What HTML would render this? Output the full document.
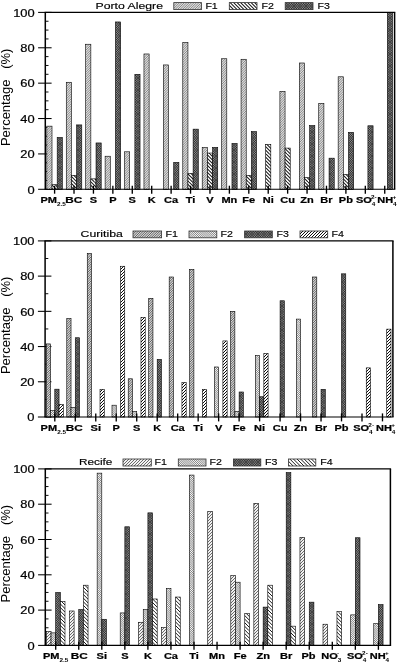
<!DOCTYPE html>
<html><head><meta charset="utf-8"><title>Source apportionment charts</title>
<style>html,body{margin:0;padding:0;background:#fff}svg{display:block}</style></head>
<body>
<svg width="397" height="663" viewBox="0 0 397 663" font-family="Liberation Sans, Arial, sans-serif">
<defs>
<pattern id="dF" width="17.00" height="17.00" patternUnits="userSpaceOnUse"><rect width="17.00" height="17.00" fill="#fff"/><path d="M-17.00,17.00 L0.00,0 M-15.30,17.00 L1.70,0 M-13.60,17.00 L3.40,0 M-11.90,17.00 L5.10,0 M-10.20,17.00 L6.80,0 M-8.50,17.00 L8.50,0 M-6.80,17.00 L10.20,0 M-5.10,17.00 L11.90,0 M-3.40,17.00 L13.60,0 M-1.70,17.00 L15.30,0 M0.00,17.00 L17.00,0 M1.70,17.00 L18.70,0 M3.40,17.00 L20.40,0 M5.10,17.00 L22.10,0 M6.80,17.00 L23.80,0 M8.50,17.00 L25.50,0 M10.20,17.00 L27.20,0 M11.90,17.00 L28.90,0 M13.60,17.00 L30.60,0 M15.30,17.00 L32.30,0 M17.00,17.00 L34.00,0" stroke="#3a3a3a" stroke-width="0.6" fill="none"/></pattern>
<pattern id="mF" width="12.00" height="12.00" patternUnits="userSpaceOnUse"><rect width="12.00" height="12.00" fill="#d6d6d6"/><path d="M-12.00,12.00 L0.00,0 M-9.60,12.00 L2.40,0 M-7.20,12.00 L4.80,0 M-4.80,12.00 L7.20,0 M-2.40,12.00 L9.60,0 M0.00,12.00 L12.00,0 M2.40,12.00 L14.40,0 M4.80,12.00 L16.80,0 M7.20,12.00 L19.20,0 M9.60,12.00 L21.60,0 M12.00,12.00 L24.00,0" stroke="#444" stroke-width="0.8" fill="none"/></pattern>
<pattern id="sF" width="12.00" height="12.00" patternUnits="userSpaceOnUse"><rect width="12.00" height="12.00" fill="#fff"/><path d="M-12.00,12.00 L0.00,0 M-9.00,12.00 L3.00,0 M-6.00,12.00 L6.00,0 M-3.00,12.00 L9.00,0 M0.00,12.00 L12.00,0 M3.00,12.00 L15.00,0 M6.00,12.00 L18.00,0 M9.00,12.00 L21.00,0 M12.00,12.00 L24.00,0" stroke="#000" stroke-width="0.95" fill="none"/></pattern>
<pattern id="dB" width="19.00" height="19.00" patternUnits="userSpaceOnUse"><rect width="19.00" height="19.00" fill="#fff"/><path d="M-19.00,0 L0.00,19.00 M-17.10,0 L1.90,19.00 M-15.20,0 L3.80,19.00 M-13.30,0 L5.70,19.00 M-11.40,0 L7.60,19.00 M-9.50,0 L9.50,19.00 M-7.60,0 L11.40,19.00 M-5.70,0 L13.30,19.00 M-3.80,0 L15.20,19.00 M-1.90,0 L17.10,19.00 M0.00,0 L19.00,19.00 M1.90,0 L20.90,19.00 M3.80,0 L22.80,19.00 M5.70,0 L24.70,19.00 M7.60,0 L26.60,19.00 M9.50,0 L28.50,19.00 M11.40,0 L30.40,19.00 M13.30,0 L32.30,19.00 M15.20,0 L34.20,19.00 M17.10,0 L36.10,19.00 M19.00,0 L38.00,19.00" stroke="#333" stroke-width="0.6" fill="none"/></pattern>
<pattern id="sB" width="18.00" height="18.00" patternUnits="userSpaceOnUse"><rect width="18.00" height="18.00" fill="#fff"/><path d="M-18.00,0 L0.00,18.00 M-14.40,0 L3.60,18.00 M-10.80,0 L7.20,18.00 M-7.20,0 L10.80,18.00 M-3.60,0 L14.40,18.00 M0.00,0 L18.00,18.00 M3.60,0 L21.60,18.00 M7.20,0 L25.20,18.00 M10.80,0 L28.80,18.00 M14.40,0 L32.40,18.00 M18.00,0 L36.00,18.00" stroke="#1a1a1a" stroke-width="1.0" fill="none"/></pattern>
<pattern id="mF3" width="12.00" height="12.00" patternUnits="userSpaceOnUse"><rect width="12.00" height="12.00" fill="#f2f2f2"/><path d="M-12.00,12.00 L0.00,0 M-9.00,12.00 L3.00,0 M-6.00,12.00 L6.00,0 M-3.00,12.00 L9.00,0 M0.00,12.00 L12.00,0 M3.00,12.00 L15.00,0 M6.00,12.00 L18.00,0 M9.00,12.00 L21.00,0 M12.00,12.00 L24.00,0" stroke="#5a5a5a" stroke-width="0.9" fill="none"/></pattern>
<pattern id="sB1" width="14.00" height="14.00" patternUnits="userSpaceOnUse"><rect width="14.00" height="14.00" fill="#fff"/><path d="M-14.00,0 L0.00,14.00 M-10.50,0 L3.50,14.00 M-7.00,0 L7.00,14.00 M-3.50,0 L10.50,14.00 M0.00,0 L14.00,14.00 M3.50,0 L17.50,14.00 M7.00,0 L21.00,14.00 M10.50,0 L24.50,14.00 M14.00,0 L28.00,14.00" stroke="#1a1a1a" stroke-width="1.05" fill="none"/></pattern>
<pattern id="X" width="12.00" height="12.00" patternUnits="userSpaceOnUse"><rect width="12.00" height="12.00" fill="#8c8c8c"/><path d="M-12.00,12.00 L0.00,0 M-12.00,0 L0.00,12.00 M-9.60,12.00 L2.40,0 M-9.60,0 L2.40,12.00 M-7.20,12.00 L4.80,0 M-7.20,0 L4.80,12.00 M-4.80,12.00 L7.20,0 M-4.80,0 L7.20,12.00 M-2.40,12.00 L9.60,0 M-2.40,0 L9.60,12.00 M0.00,12.00 L12.00,0 M0.00,0 L12.00,12.00 M2.40,12.00 L14.40,0 M2.40,0 L14.40,12.00 M4.80,12.00 L16.80,0 M4.80,0 L16.80,12.00 M7.20,12.00 L19.20,0 M7.20,0 L19.20,12.00 M9.60,12.00 L21.60,0 M9.60,0 L21.60,12.00 M12.00,12.00 L24.00,0 M12.00,0 L24.00,12.00" stroke="#1a1a1a" stroke-width="0.65" fill="none"/></pattern>
</defs>
<rect width="397" height="663" fill="#fff"/>
<g>
<path d="M38.099999999999994,189.30 H51.599999999999994" stroke="#000" stroke-width="1.05"/>
<text transform="translate(34.7,193.50) scale(1.24,1)" font-size="10.4" stroke="#000" stroke-width="0.2" text-anchor="end">0</text>
<path d="M45.3,180.46 H48.5" stroke="#000" stroke-width="0.95"/>
<path d="M45.3,171.61 H48.5" stroke="#000" stroke-width="0.95"/>
<path d="M45.3,162.77 H48.5" stroke="#000" stroke-width="0.95"/>
<path d="M38.099999999999994,153.92 H51.599999999999994" stroke="#000" stroke-width="1.05"/>
<text transform="translate(34.7,158.12) scale(1.24,1)" font-size="10.4" stroke="#000" stroke-width="0.2" text-anchor="end">20</text>
<path d="M45.3,145.08 H48.5" stroke="#000" stroke-width="0.95"/>
<path d="M45.3,136.23 H48.5" stroke="#000" stroke-width="0.95"/>
<path d="M45.3,127.39 H48.5" stroke="#000" stroke-width="0.95"/>
<path d="M38.099999999999994,118.54 H51.599999999999994" stroke="#000" stroke-width="1.05"/>
<text transform="translate(34.7,122.74) scale(1.24,1)" font-size="10.4" stroke="#000" stroke-width="0.2" text-anchor="end">40</text>
<path d="M45.3,109.70 H48.5" stroke="#000" stroke-width="0.95"/>
<path d="M45.3,100.85 H48.5" stroke="#000" stroke-width="0.95"/>
<path d="M45.3,92.01 H48.5" stroke="#000" stroke-width="0.95"/>
<path d="M38.099999999999994,83.16 H51.599999999999994" stroke="#000" stroke-width="1.05"/>
<text transform="translate(34.7,87.36) scale(1.24,1)" font-size="10.4" stroke="#000" stroke-width="0.2" text-anchor="end">60</text>
<path d="M45.3,74.31 H48.5" stroke="#000" stroke-width="0.95"/>
<path d="M45.3,65.47 H48.5" stroke="#000" stroke-width="0.95"/>
<path d="M45.3,56.62 H48.5" stroke="#000" stroke-width="0.95"/>
<path d="M38.099999999999994,47.78 H51.599999999999994" stroke="#000" stroke-width="1.05"/>
<text transform="translate(34.7,51.98) scale(1.24,1)" font-size="10.4" stroke="#000" stroke-width="0.2" text-anchor="end">80</text>
<path d="M45.3,38.94 H48.5" stroke="#000" stroke-width="0.95"/>
<path d="M45.3,30.09 H48.5" stroke="#000" stroke-width="0.95"/>
<path d="M45.3,21.25 H48.5" stroke="#000" stroke-width="0.95"/>
<path d="M38.099999999999994,12.40 H51.599999999999994" stroke="#000" stroke-width="1.05"/>
<text transform="translate(34.7,16.60) scale(1.24,1)" font-size="10.4" stroke="#000" stroke-width="0.2" text-anchor="end">100</text>
<rect x="46.84" y="126.15" width="5.17" height="63.15" fill="url(#dF)" stroke="#000" stroke-width="0.6"/>
<rect x="52.02" y="184.70" width="5.17" height="4.60" fill="url(#sB1)" stroke="#000" stroke-width="0.6"/>
<rect x="57.19" y="137.47" width="5.17" height="51.83" fill="url(#X)" stroke="#000" stroke-width="0.6"/>
<rect x="66.27" y="82.28" width="5.17" height="107.02" fill="url(#dF)" stroke="#000" stroke-width="0.6"/>
<rect x="71.44" y="175.32" width="5.17" height="13.98" fill="url(#sB1)" stroke="#000" stroke-width="0.6"/>
<rect x="76.61" y="124.91" width="5.17" height="64.39" fill="url(#X)" stroke="#000" stroke-width="0.6"/>
<rect x="85.69" y="44.24" width="5.17" height="145.06" fill="url(#dF)" stroke="#000" stroke-width="0.6"/>
<rect x="90.86" y="178.86" width="5.17" height="10.44" fill="url(#sB1)" stroke="#000" stroke-width="0.6"/>
<rect x="96.03" y="142.95" width="5.17" height="46.35" fill="url(#X)" stroke="#000" stroke-width="0.6"/>
<rect x="105.11" y="156.22" width="5.17" height="33.08" fill="url(#dF)" stroke="#000" stroke-width="0.6"/>
<rect x="115.45" y="21.95" width="5.17" height="167.35" fill="url(#X)" stroke="#000" stroke-width="0.6"/>
<rect x="124.53" y="151.80" width="5.17" height="37.50" fill="url(#dF)" stroke="#000" stroke-width="0.6"/>
<rect x="134.87" y="74.31" width="5.17" height="114.99" fill="url(#X)" stroke="#000" stroke-width="0.6"/>
<rect x="143.95" y="53.97" width="5.17" height="135.33" fill="url(#dF)" stroke="#000" stroke-width="0.6"/>
<rect x="163.37" y="64.94" width="5.17" height="124.36" fill="url(#dF)" stroke="#000" stroke-width="0.6"/>
<rect x="173.71" y="162.41" width="5.17" height="26.89" fill="url(#X)" stroke="#000" stroke-width="0.6"/>
<rect x="182.78" y="42.47" width="5.17" height="146.83" fill="url(#dF)" stroke="#000" stroke-width="0.6"/>
<rect x="187.95" y="173.38" width="5.17" height="15.92" fill="url(#sB1)" stroke="#000" stroke-width="0.6"/>
<rect x="193.12" y="129.15" width="5.17" height="60.15" fill="url(#X)" stroke="#000" stroke-width="0.6"/>
<rect x="202.21" y="147.55" width="5.17" height="41.75" fill="url(#dF)" stroke="#000" stroke-width="0.6"/>
<rect x="207.38" y="153.04" width="5.17" height="36.26" fill="url(#sB1)" stroke="#000" stroke-width="0.6"/>
<rect x="212.55" y="147.37" width="5.17" height="41.93" fill="url(#X)" stroke="#000" stroke-width="0.6"/>
<rect x="221.63" y="58.75" width="5.17" height="130.55" fill="url(#dF)" stroke="#000" stroke-width="0.6"/>
<rect x="231.97" y="143.48" width="5.17" height="45.82" fill="url(#X)" stroke="#000" stroke-width="0.6"/>
<rect x="241.05" y="59.28" width="5.17" height="130.02" fill="url(#dF)" stroke="#000" stroke-width="0.6"/>
<rect x="246.22" y="175.32" width="5.17" height="13.98" fill="url(#sB1)" stroke="#000" stroke-width="0.6"/>
<rect x="251.39" y="131.63" width="5.17" height="57.67" fill="url(#X)" stroke="#000" stroke-width="0.6"/>
<rect x="265.64" y="144.37" width="5.17" height="44.93" fill="url(#sB1)" stroke="#000" stroke-width="0.6"/>
<rect x="279.89" y="91.30" width="5.17" height="98.00" fill="url(#dF)" stroke="#000" stroke-width="0.6"/>
<rect x="285.06" y="148.08" width="5.17" height="41.22" fill="url(#sB1)" stroke="#000" stroke-width="0.6"/>
<rect x="299.31" y="62.99" width="5.17" height="126.31" fill="url(#dF)" stroke="#000" stroke-width="0.6"/>
<rect x="304.48" y="177.62" width="5.17" height="11.68" fill="url(#sB1)" stroke="#000" stroke-width="0.6"/>
<rect x="309.65" y="125.62" width="5.17" height="63.68" fill="url(#X)" stroke="#000" stroke-width="0.6"/>
<rect x="318.73" y="103.33" width="5.17" height="85.97" fill="url(#dF)" stroke="#000" stroke-width="0.6"/>
<rect x="329.06" y="158.17" width="5.17" height="31.13" fill="url(#X)" stroke="#000" stroke-width="0.6"/>
<rect x="338.15" y="76.79" width="5.17" height="112.51" fill="url(#dF)" stroke="#000" stroke-width="0.6"/>
<rect x="343.32" y="174.44" width="5.17" height="14.86" fill="url(#sB1)" stroke="#000" stroke-width="0.6"/>
<rect x="348.49" y="132.34" width="5.17" height="56.96" fill="url(#X)" stroke="#000" stroke-width="0.6"/>
<rect x="367.91" y="125.79" width="5.17" height="63.51" fill="url(#X)" stroke="#000" stroke-width="0.6"/>
<rect x="387.33" y="12.40" width="5.17" height="176.90" fill="url(#X)" stroke="#000" stroke-width="0.6"/>
<path d="M44.599999999999994,12.4 H395.3 M44.599999999999994,189.3 H395.3" fill="none" stroke="#000" stroke-width="1.1"/>
<path d="M45.3,12.4 V189.3 M394.6,12.4 V189.3" fill="none" stroke="#000" stroke-width="1.5"/>
<path d="M54.60,185.70000000000002 V193.70000000000002" stroke="#000" stroke-width="1.35"/>
<text transform="translate(53.20,202.80) scale(1.33,1)" font-size="8.3" font-weight="bold" stroke="#000" stroke-width="0.2" text-anchor="middle">PM<tspan font-size="4.8" dy="3.3" stroke="none">2.5</tspan></text>
<path d="M74.02,185.70000000000002 V193.70000000000002" stroke="#000" stroke-width="1.35"/>
<text transform="translate(73.72,202.80) scale(1.33,1)" font-size="8.3" font-weight="bold" stroke="#000" stroke-width="0.2" text-anchor="middle" textLength="12.8" lengthAdjust="spacingAndGlyphs">BC</text>
<path d="M93.44,185.70000000000002 V193.70000000000002" stroke="#000" stroke-width="1.35"/>
<text transform="translate(93.44,202.80) scale(1.33,1)" font-size="8.3" font-weight="bold" stroke="#000" stroke-width="0.2" text-anchor="middle">S</text>
<path d="M112.86,185.70000000000002 V193.70000000000002" stroke="#000" stroke-width="1.35"/>
<text transform="translate(112.86,202.80) scale(1.33,1)" font-size="8.3" font-weight="bold" stroke="#000" stroke-width="0.2" text-anchor="middle">P</text>
<path d="M132.28,185.70000000000002 V193.70000000000002" stroke="#000" stroke-width="1.35"/>
<text transform="translate(132.28,202.80) scale(1.33,1)" font-size="8.3" font-weight="bold" stroke="#000" stroke-width="0.2" text-anchor="middle">S</text>
<path d="M151.70,185.70000000000002 V193.70000000000002" stroke="#000" stroke-width="1.35"/>
<text transform="translate(151.70,202.80) scale(1.33,1)" font-size="8.3" font-weight="bold" stroke="#000" stroke-width="0.2" text-anchor="middle">K</text>
<path d="M171.12,185.70000000000002 V193.70000000000002" stroke="#000" stroke-width="1.35"/>
<text transform="translate(171.12,202.80) scale(1.33,1)" font-size="8.3" font-weight="bold" stroke="#000" stroke-width="0.2" text-anchor="middle">Ca</text>
<path d="M190.54,185.70000000000002 V193.70000000000002" stroke="#000" stroke-width="1.35"/>
<text transform="translate(190.54,202.80) scale(1.33,1)" font-size="8.3" font-weight="bold" stroke="#000" stroke-width="0.2" text-anchor="middle">Ti</text>
<path d="M209.96,185.70000000000002 V193.70000000000002" stroke="#000" stroke-width="1.35"/>
<text transform="translate(209.96,202.80) scale(1.33,1)" font-size="8.3" font-weight="bold" stroke="#000" stroke-width="0.2" text-anchor="middle">V</text>
<path d="M229.38,185.70000000000002 V193.70000000000002" stroke="#000" stroke-width="1.35"/>
<text transform="translate(229.38,202.80) scale(1.33,1)" font-size="8.3" font-weight="bold" stroke="#000" stroke-width="0.2" text-anchor="middle">Mn</text>
<path d="M248.80,185.70000000000002 V193.70000000000002" stroke="#000" stroke-width="1.35"/>
<text transform="translate(248.80,202.80) scale(1.33,1)" font-size="8.3" font-weight="bold" stroke="#000" stroke-width="0.2" text-anchor="middle">Fe</text>
<path d="M268.22,185.70000000000002 V193.70000000000002" stroke="#000" stroke-width="1.35"/>
<text transform="translate(268.22,202.80) scale(1.33,1)" font-size="8.3" font-weight="bold" stroke="#000" stroke-width="0.2" text-anchor="middle">Ni</text>
<path d="M287.64,185.70000000000002 V193.70000000000002" stroke="#000" stroke-width="1.35"/>
<text transform="translate(287.64,202.80) scale(1.33,1)" font-size="8.3" font-weight="bold" stroke="#000" stroke-width="0.2" text-anchor="middle">Cu</text>
<path d="M307.06,185.70000000000002 V193.70000000000002" stroke="#000" stroke-width="1.35"/>
<text transform="translate(307.06,202.80) scale(1.33,1)" font-size="8.3" font-weight="bold" stroke="#000" stroke-width="0.2" text-anchor="middle">Zn</text>
<path d="M326.48,185.70000000000002 V193.70000000000002" stroke="#000" stroke-width="1.35"/>
<text transform="translate(326.48,202.80) scale(1.33,1)" font-size="8.3" font-weight="bold" stroke="#000" stroke-width="0.2" text-anchor="middle">Br</text>
<path d="M345.90,185.70000000000002 V193.70000000000002" stroke="#000" stroke-width="1.35"/>
<text transform="translate(345.90,202.80) scale(1.33,1)" font-size="8.3" font-weight="bold" stroke="#000" stroke-width="0.2" text-anchor="middle">Pb</text>
<path d="M365.32,185.70000000000002 V193.70000000000002" stroke="#000" stroke-width="1.35"/>
<text transform="translate(366.32,202.80) scale(1.33,1)" font-size="8.3" font-weight="bold" stroke="#000" stroke-width="0.2" text-anchor="middle">SO<tspan font-size="4.8" dy="3.3" stroke="none">4</tspan><tspan font-size="4.8" dy="-7.6" dx="-3.2" stroke="none">2-</tspan></text>
<path d="M384.74,185.70000000000002 V193.70000000000002" stroke="#000" stroke-width="1.35"/>
<text transform="translate(386.94,202.80) scale(1.33,1)" font-size="8.3" font-weight="bold" stroke="#000" stroke-width="0.2" text-anchor="middle">NH<tspan font-size="4.8" dy="3.3" stroke="none">4</tspan><tspan font-size="4.8" dy="-7.6" dx="-3.2" stroke="none">+</tspan></text>
<text transform="translate(9.5,146.1) rotate(-90)" font-size="13">Percentage&#160;&#160;&#160;(%)</text>
<text x="95.5" y="8.9" font-size="9.3" stroke="#000" stroke-width="0.15" textLength="67.5" lengthAdjust="spacingAndGlyphs">Porto Alegre</text>
<rect x="173.8" y="2.6" width="27.7" height="7.0" fill="url(#dF)" stroke="#333" stroke-width="0.8"/>
<text x="205.4" y="8.9" font-size="9.3" stroke="#000" stroke-width="0.15" textLength="12.4" lengthAdjust="spacingAndGlyphs">F1</text>
<rect x="229.3" y="2.6" width="27.7" height="7.0" fill="url(#sB1)" stroke="#333" stroke-width="0.8"/>
<text x="261.5" y="8.9" font-size="9.3" stroke="#000" stroke-width="0.15" textLength="12.4" lengthAdjust="spacingAndGlyphs">F2</text>
<rect x="285.2" y="2.6" width="27.8" height="7.0" fill="url(#X)" stroke="#333" stroke-width="0.8"/>
<text x="317.6" y="8.9" font-size="9.3" stroke="#000" stroke-width="0.15" textLength="12.4" lengthAdjust="spacingAndGlyphs">F3</text>
</g>
<g>
<path d="M37.9,417.00 H51.4" stroke="#000" stroke-width="1.05"/>
<text transform="translate(34.5,421.20) scale(1.24,1)" font-size="10.4" stroke="#000" stroke-width="0.2" text-anchor="end">0</text>
<path d="M45.1,399.39 H48.300000000000004" stroke="#000" stroke-width="0.95"/>
<path d="M37.9,381.78 H51.4" stroke="#000" stroke-width="1.05"/>
<text transform="translate(34.5,385.98) scale(1.24,1)" font-size="10.4" stroke="#000" stroke-width="0.2" text-anchor="end">20</text>
<path d="M45.1,364.17 H48.300000000000004" stroke="#000" stroke-width="0.95"/>
<path d="M37.9,346.56 H51.4" stroke="#000" stroke-width="1.05"/>
<text transform="translate(34.5,350.76) scale(1.24,1)" font-size="10.4" stroke="#000" stroke-width="0.2" text-anchor="end">40</text>
<path d="M45.1,328.95 H48.300000000000004" stroke="#000" stroke-width="0.95"/>
<path d="M37.9,311.34 H51.4" stroke="#000" stroke-width="1.05"/>
<text transform="translate(34.5,315.54) scale(1.24,1)" font-size="10.4" stroke="#000" stroke-width="0.2" text-anchor="end">60</text>
<path d="M45.1,293.73 H48.300000000000004" stroke="#000" stroke-width="0.95"/>
<path d="M37.9,276.12 H51.4" stroke="#000" stroke-width="1.05"/>
<text transform="translate(34.5,280.32) scale(1.24,1)" font-size="10.4" stroke="#000" stroke-width="0.2" text-anchor="end">80</text>
<path d="M45.1,258.51 H48.300000000000004" stroke="#000" stroke-width="0.95"/>
<path d="M37.9,240.90 H51.4" stroke="#000" stroke-width="1.05"/>
<text transform="translate(34.5,245.10) scale(1.24,1)" font-size="10.4" stroke="#000" stroke-width="0.2" text-anchor="end">100</text>
<rect x="46.30" y="343.92" width="4.25" height="73.08" fill="url(#mF)" stroke="#000" stroke-width="0.6"/>
<rect x="50.55" y="410.66" width="4.25" height="6.34" fill="url(#dB)" stroke="#000" stroke-width="0.6"/>
<rect x="54.80" y="389.18" width="4.25" height="27.82" fill="url(#X)" stroke="#000" stroke-width="0.6"/>
<rect x="59.05" y="404.50" width="4.25" height="12.50" fill="url(#sF)" stroke="#000" stroke-width="0.6"/>
<rect x="66.78" y="318.56" width="4.25" height="98.44" fill="url(#mF)" stroke="#000" stroke-width="0.6"/>
<rect x="71.03" y="407.31" width="4.25" height="9.69" fill="url(#dB)" stroke="#000" stroke-width="0.6"/>
<rect x="75.28" y="337.75" width="4.25" height="79.25" fill="url(#X)" stroke="#000" stroke-width="0.6"/>
<rect x="87.26" y="253.58" width="4.25" height="163.42" fill="url(#mF)" stroke="#000" stroke-width="0.6"/>
<rect x="100.01" y="389.35" width="4.25" height="27.65" fill="url(#sF)" stroke="#000" stroke-width="0.6"/>
<rect x="111.99" y="405.20" width="4.25" height="11.80" fill="url(#dB)" stroke="#000" stroke-width="0.6"/>
<rect x="120.49" y="266.26" width="4.25" height="150.74" fill="url(#sF)" stroke="#000" stroke-width="0.6"/>
<rect x="128.22" y="378.79" width="4.25" height="38.21" fill="url(#mF)" stroke="#000" stroke-width="0.6"/>
<rect x="132.47" y="411.36" width="4.25" height="5.64" fill="url(#dB)" stroke="#000" stroke-width="0.6"/>
<rect x="140.97" y="317.33" width="4.25" height="99.67" fill="url(#sF)" stroke="#000" stroke-width="0.6"/>
<rect x="148.70" y="298.31" width="4.25" height="118.69" fill="url(#mF)" stroke="#000" stroke-width="0.6"/>
<rect x="157.20" y="359.42" width="4.25" height="57.58" fill="url(#X)" stroke="#000" stroke-width="0.6"/>
<rect x="169.18" y="277.00" width="4.25" height="140.00" fill="url(#mF)" stroke="#000" stroke-width="0.6"/>
<rect x="181.93" y="382.48" width="4.25" height="34.52" fill="url(#sF)" stroke="#000" stroke-width="0.6"/>
<rect x="189.66" y="269.43" width="4.25" height="147.57" fill="url(#mF)" stroke="#000" stroke-width="0.6"/>
<rect x="202.41" y="389.35" width="4.25" height="27.65" fill="url(#sF)" stroke="#000" stroke-width="0.6"/>
<rect x="214.39" y="366.99" width="4.25" height="50.01" fill="url(#dB)" stroke="#000" stroke-width="0.6"/>
<rect x="222.89" y="340.92" width="4.25" height="76.08" fill="url(#sF)" stroke="#000" stroke-width="0.6"/>
<rect x="230.62" y="311.34" width="4.25" height="105.66" fill="url(#mF)" stroke="#000" stroke-width="0.6"/>
<rect x="234.87" y="411.36" width="4.25" height="5.64" fill="url(#dB)" stroke="#000" stroke-width="0.6"/>
<rect x="239.12" y="391.99" width="4.25" height="25.01" fill="url(#X)" stroke="#000" stroke-width="0.6"/>
<rect x="255.35" y="355.54" width="4.25" height="61.46" fill="url(#dB)" stroke="#000" stroke-width="0.6"/>
<rect x="259.60" y="396.75" width="4.25" height="20.25" fill="url(#X)" stroke="#000" stroke-width="0.6"/>
<rect x="263.85" y="353.60" width="4.25" height="63.40" fill="url(#sF)" stroke="#000" stroke-width="0.6"/>
<rect x="280.08" y="300.77" width="4.25" height="116.23" fill="url(#X)" stroke="#000" stroke-width="0.6"/>
<rect x="296.31" y="319.09" width="4.25" height="97.91" fill="url(#dB)" stroke="#000" stroke-width="0.6"/>
<rect x="312.54" y="277.00" width="4.25" height="140.00" fill="url(#mF)" stroke="#000" stroke-width="0.6"/>
<rect x="321.04" y="389.35" width="4.25" height="27.65" fill="url(#X)" stroke="#000" stroke-width="0.6"/>
<rect x="341.52" y="273.83" width="4.25" height="143.17" fill="url(#X)" stroke="#000" stroke-width="0.6"/>
<rect x="366.25" y="367.87" width="4.25" height="49.13" fill="url(#sF)" stroke="#000" stroke-width="0.6"/>
<rect x="386.73" y="329.13" width="4.25" height="87.87" fill="url(#sF)" stroke="#000" stroke-width="0.6"/>
<path d="M44.4,240.9 H393.59999999999997 M44.4,417.0 H393.59999999999997" fill="none" stroke="#000" stroke-width="1.1"/>
<path d="M45.1,240.9 V417.0 M392.9,240.9 V417.0" fill="none" stroke="#000" stroke-width="1.5"/>
<path d="M54.80,413.4 V421.4" stroke="#000" stroke-width="1.35"/>
<text transform="translate(53.30,430.80) scale(1.33,1)" font-size="8.3" font-weight="bold" stroke="#000" stroke-width="0.2" text-anchor="middle">PM<tspan font-size="4.8" dy="3.3" stroke="none">2.5</tspan></text>
<path d="M75.28,413.4 V421.4" stroke="#000" stroke-width="1.35"/>
<text transform="translate(74.28,430.80) scale(1.33,1)" font-size="8.3" font-weight="bold" stroke="#000" stroke-width="0.2" text-anchor="middle" textLength="12.8" lengthAdjust="spacingAndGlyphs">BC</text>
<path d="M95.76,413.4 V421.4" stroke="#000" stroke-width="1.35"/>
<text transform="translate(95.76,430.80) scale(1.33,1)" font-size="8.3" font-weight="bold" stroke="#000" stroke-width="0.2" text-anchor="middle">Si</text>
<path d="M116.24,413.4 V421.4" stroke="#000" stroke-width="1.35"/>
<text transform="translate(116.24,430.80) scale(1.33,1)" font-size="8.3" font-weight="bold" stroke="#000" stroke-width="0.2" text-anchor="middle">P</text>
<path d="M136.72,413.4 V421.4" stroke="#000" stroke-width="1.35"/>
<text transform="translate(136.72,430.80) scale(1.33,1)" font-size="8.3" font-weight="bold" stroke="#000" stroke-width="0.2" text-anchor="middle">S</text>
<path d="M157.20,413.4 V421.4" stroke="#000" stroke-width="1.35"/>
<text transform="translate(157.20,430.80) scale(1.33,1)" font-size="8.3" font-weight="bold" stroke="#000" stroke-width="0.2" text-anchor="middle">K</text>
<path d="M177.68,413.4 V421.4" stroke="#000" stroke-width="1.35"/>
<text transform="translate(177.68,430.80) scale(1.33,1)" font-size="8.3" font-weight="bold" stroke="#000" stroke-width="0.2" text-anchor="middle">Ca</text>
<path d="M198.16,413.4 V421.4" stroke="#000" stroke-width="1.35"/>
<text transform="translate(198.16,430.80) scale(1.33,1)" font-size="8.3" font-weight="bold" stroke="#000" stroke-width="0.2" text-anchor="middle">Ti</text>
<path d="M218.64,413.4 V421.4" stroke="#000" stroke-width="1.35"/>
<text transform="translate(218.64,430.80) scale(1.33,1)" font-size="8.3" font-weight="bold" stroke="#000" stroke-width="0.2" text-anchor="middle">V</text>
<path d="M239.12,413.4 V421.4" stroke="#000" stroke-width="1.35"/>
<text transform="translate(239.12,430.80) scale(1.33,1)" font-size="8.3" font-weight="bold" stroke="#000" stroke-width="0.2" text-anchor="middle">Fe</text>
<path d="M259.60,413.4 V421.4" stroke="#000" stroke-width="1.35"/>
<text transform="translate(259.60,430.80) scale(1.33,1)" font-size="8.3" font-weight="bold" stroke="#000" stroke-width="0.2" text-anchor="middle">Ni</text>
<path d="M280.08,413.4 V421.4" stroke="#000" stroke-width="1.35"/>
<text transform="translate(280.08,430.80) scale(1.33,1)" font-size="8.3" font-weight="bold" stroke="#000" stroke-width="0.2" text-anchor="middle">Cu</text>
<path d="M300.56,413.4 V421.4" stroke="#000" stroke-width="1.35"/>
<text transform="translate(300.56,430.80) scale(1.33,1)" font-size="8.3" font-weight="bold" stroke="#000" stroke-width="0.2" text-anchor="middle">Zn</text>
<path d="M321.04,413.4 V421.4" stroke="#000" stroke-width="1.35"/>
<text transform="translate(321.04,430.80) scale(1.33,1)" font-size="8.3" font-weight="bold" stroke="#000" stroke-width="0.2" text-anchor="middle">Br</text>
<path d="M341.52,413.4 V421.4" stroke="#000" stroke-width="1.35"/>
<text transform="translate(341.52,430.80) scale(1.33,1)" font-size="8.3" font-weight="bold" stroke="#000" stroke-width="0.2" text-anchor="middle">Pb</text>
<path d="M362.00,413.4 V421.4" stroke="#000" stroke-width="1.35"/>
<text transform="translate(363.60,430.80) scale(1.33,1)" font-size="8.3" font-weight="bold" stroke="#000" stroke-width="0.2" text-anchor="middle">SO<tspan font-size="4.8" dy="3.3" stroke="none">4</tspan><tspan font-size="4.8" dy="-7.6" dx="-3.2" stroke="none">2-</tspan></text>
<path d="M382.48,413.4 V421.4" stroke="#000" stroke-width="1.35"/>
<text transform="translate(385.68,430.80) scale(1.33,1)" font-size="8.3" font-weight="bold" stroke="#000" stroke-width="0.2" text-anchor="middle">NH<tspan font-size="4.8" dy="3.3" stroke="none">4</tspan><tspan font-size="4.8" dy="-7.6" dx="-3.2" stroke="none">+</tspan></text>
<text transform="translate(9.5,374.1) rotate(-90)" font-size="13">Percentage&#160;&#160;&#160;(%)</text>
<text x="80.6" y="237.0" font-size="9.3" stroke="#000" stroke-width="0.15" textLength="42.3" lengthAdjust="spacingAndGlyphs">Curitiba</text>
<rect x="133.0" y="231.0" width="28.6" height="6.8" fill="url(#mF)" stroke="#333" stroke-width="0.8"/>
<text x="165.6" y="237.0" font-size="9.3" stroke="#000" stroke-width="0.15" textLength="12.4" lengthAdjust="spacingAndGlyphs">F1</text>
<rect x="189.0" y="231.0" width="27.8" height="6.8" fill="url(#dB)" stroke="#333" stroke-width="0.8"/>
<text x="220.5" y="237.0" font-size="9.3" stroke="#000" stroke-width="0.15" textLength="12.4" lengthAdjust="spacingAndGlyphs">F2</text>
<rect x="244.6" y="231.0" width="27.7" height="6.8" fill="url(#X)" stroke="#333" stroke-width="0.8"/>
<text x="276.6" y="237.0" font-size="9.3" stroke="#000" stroke-width="0.15" textLength="12.4" lengthAdjust="spacingAndGlyphs">F3</text>
<rect x="300.0" y="231.0" width="27.7" height="6.8" fill="url(#sF)" stroke="#333" stroke-width="0.8"/>
<text x="331.5" y="237.0" font-size="9.3" stroke="#000" stroke-width="0.15" textLength="12.4" lengthAdjust="spacingAndGlyphs">F4</text>
</g>
<g>
<path d="M38.099999999999994,645.40 H51.599999999999994" stroke="#000" stroke-width="1.05"/>
<text transform="translate(34.7,649.60) scale(1.24,1)" font-size="10.4" stroke="#000" stroke-width="0.2" text-anchor="end">0</text>
<path d="M45.3,636.57 H48.5" stroke="#000" stroke-width="0.95"/>
<path d="M45.3,627.75 H48.5" stroke="#000" stroke-width="0.95"/>
<path d="M45.3,618.92 H48.5" stroke="#000" stroke-width="0.95"/>
<path d="M38.099999999999994,610.10 H51.599999999999994" stroke="#000" stroke-width="1.05"/>
<text transform="translate(34.7,614.30) scale(1.24,1)" font-size="10.4" stroke="#000" stroke-width="0.2" text-anchor="end">20</text>
<path d="M45.3,601.27 H48.5" stroke="#000" stroke-width="0.95"/>
<path d="M45.3,592.45 H48.5" stroke="#000" stroke-width="0.95"/>
<path d="M45.3,583.62 H48.5" stroke="#000" stroke-width="0.95"/>
<path d="M38.099999999999994,574.80 H51.599999999999994" stroke="#000" stroke-width="1.05"/>
<text transform="translate(34.7,579.00) scale(1.24,1)" font-size="10.4" stroke="#000" stroke-width="0.2" text-anchor="end">40</text>
<path d="M45.3,565.98 H48.5" stroke="#000" stroke-width="0.95"/>
<path d="M45.3,557.15 H48.5" stroke="#000" stroke-width="0.95"/>
<path d="M45.3,548.33 H48.5" stroke="#000" stroke-width="0.95"/>
<path d="M38.099999999999994,539.50 H51.599999999999994" stroke="#000" stroke-width="1.05"/>
<text transform="translate(34.7,543.70) scale(1.24,1)" font-size="10.4" stroke="#000" stroke-width="0.2" text-anchor="end">60</text>
<path d="M45.3,530.67 H48.5" stroke="#000" stroke-width="0.95"/>
<path d="M45.3,521.85 H48.5" stroke="#000" stroke-width="0.95"/>
<path d="M45.3,513.02 H48.5" stroke="#000" stroke-width="0.95"/>
<path d="M38.099999999999994,504.20 H51.599999999999994" stroke="#000" stroke-width="1.05"/>
<text transform="translate(34.7,508.40) scale(1.24,1)" font-size="10.4" stroke="#000" stroke-width="0.2" text-anchor="end">80</text>
<path d="M45.3,495.38 H48.5" stroke="#000" stroke-width="0.95"/>
<path d="M45.3,486.55 H48.5" stroke="#000" stroke-width="0.95"/>
<path d="M45.3,477.73 H48.5" stroke="#000" stroke-width="0.95"/>
<path d="M38.099999999999994,468.90 H51.599999999999994" stroke="#000" stroke-width="1.05"/>
<text transform="translate(34.7,473.10) scale(1.24,1)" font-size="10.4" stroke="#000" stroke-width="0.2" text-anchor="end">100</text>
<rect x="46.40" y="631.46" width="4.65" height="13.94" fill="url(#mF3)" stroke="#000" stroke-width="0.6"/>
<rect x="51.05" y="632.87" width="4.65" height="12.53" fill="url(#dB)" stroke="#000" stroke-width="0.6"/>
<rect x="55.70" y="592.45" width="4.65" height="52.95" fill="url(#X)" stroke="#000" stroke-width="0.6"/>
<rect x="60.35" y="601.45" width="4.65" height="43.95" fill="url(#sB)" stroke="#000" stroke-width="0.6"/>
<rect x="69.45" y="610.98" width="4.65" height="34.42" fill="url(#mF3)" stroke="#000" stroke-width="0.6"/>
<rect x="78.75" y="609.57" width="4.65" height="35.83" fill="url(#X)" stroke="#000" stroke-width="0.6"/>
<rect x="83.40" y="585.21" width="4.65" height="60.19" fill="url(#sB)" stroke="#000" stroke-width="0.6"/>
<rect x="97.15" y="473.14" width="4.65" height="172.26" fill="url(#dB)" stroke="#000" stroke-width="0.6"/>
<rect x="101.80" y="619.28" width="4.65" height="26.12" fill="url(#X)" stroke="#000" stroke-width="0.6"/>
<rect x="120.20" y="612.92" width="4.65" height="32.48" fill="url(#dB)" stroke="#000" stroke-width="0.6"/>
<rect x="124.85" y="526.79" width="4.65" height="118.61" fill="url(#X)" stroke="#000" stroke-width="0.6"/>
<rect x="138.60" y="622.28" width="4.65" height="23.12" fill="url(#mF3)" stroke="#000" stroke-width="0.6"/>
<rect x="143.25" y="609.57" width="4.65" height="35.83" fill="url(#dB)" stroke="#000" stroke-width="0.6"/>
<rect x="147.90" y="512.85" width="4.65" height="132.55" fill="url(#X)" stroke="#000" stroke-width="0.6"/>
<rect x="152.55" y="598.98" width="4.65" height="46.42" fill="url(#sB)" stroke="#000" stroke-width="0.6"/>
<rect x="161.65" y="627.57" width="4.65" height="17.83" fill="url(#mF3)" stroke="#000" stroke-width="0.6"/>
<rect x="166.30" y="588.39" width="4.65" height="57.01" fill="url(#dB)" stroke="#000" stroke-width="0.6"/>
<rect x="175.60" y="597.04" width="4.65" height="48.36" fill="url(#sB)" stroke="#000" stroke-width="0.6"/>
<rect x="189.35" y="475.08" width="4.65" height="170.32" fill="url(#dB)" stroke="#000" stroke-width="0.6"/>
<rect x="207.75" y="511.61" width="4.65" height="133.79" fill="url(#mF3)" stroke="#000" stroke-width="0.6"/>
<rect x="230.80" y="575.68" width="4.65" height="69.72" fill="url(#mF3)" stroke="#000" stroke-width="0.6"/>
<rect x="235.45" y="582.21" width="4.65" height="63.19" fill="url(#dB)" stroke="#000" stroke-width="0.6"/>
<rect x="244.75" y="613.63" width="4.65" height="31.77" fill="url(#sB)" stroke="#000" stroke-width="0.6"/>
<rect x="253.85" y="503.32" width="4.65" height="142.08" fill="url(#mF3)" stroke="#000" stroke-width="0.6"/>
<rect x="263.15" y="607.10" width="4.65" height="38.30" fill="url(#X)" stroke="#000" stroke-width="0.6"/>
<rect x="267.80" y="585.21" width="4.65" height="60.19" fill="url(#sB)" stroke="#000" stroke-width="0.6"/>
<rect x="286.20" y="472.61" width="4.65" height="172.79" fill="url(#X)" stroke="#000" stroke-width="0.6"/>
<rect x="290.85" y="626.16" width="4.65" height="19.24" fill="url(#sB)" stroke="#000" stroke-width="0.6"/>
<rect x="299.95" y="537.38" width="4.65" height="108.02" fill="url(#mF3)" stroke="#000" stroke-width="0.6"/>
<rect x="309.25" y="602.16" width="4.65" height="43.24" fill="url(#X)" stroke="#000" stroke-width="0.6"/>
<rect x="323.00" y="624.22" width="4.65" height="21.18" fill="url(#mF3)" stroke="#000" stroke-width="0.6"/>
<rect x="336.95" y="611.69" width="4.65" height="33.71" fill="url(#sB)" stroke="#000" stroke-width="0.6"/>
<rect x="350.70" y="614.87" width="4.65" height="30.53" fill="url(#dB)" stroke="#000" stroke-width="0.6"/>
<rect x="355.35" y="537.74" width="4.65" height="107.66" fill="url(#X)" stroke="#000" stroke-width="0.6"/>
<rect x="373.75" y="623.69" width="4.65" height="21.71" fill="url(#dB)" stroke="#000" stroke-width="0.6"/>
<rect x="378.40" y="604.63" width="4.65" height="40.77" fill="url(#X)" stroke="#000" stroke-width="0.6"/>
<path d="M44.599999999999994,468.9 H391.09999999999997 M44.599999999999994,645.4 H391.09999999999997" fill="none" stroke="#000" stroke-width="1.1"/>
<path d="M45.3,468.9 V645.4 M390.4,468.9 V645.4" fill="none" stroke="#000" stroke-width="1.5"/>
<path d="M55.70,641.8 V649.8" stroke="#000" stroke-width="1.35"/>
<text transform="translate(55.70,658.90) scale(1.33,1)" font-size="8.3" font-weight="bold" stroke="#000" stroke-width="0.2" text-anchor="middle">PM<tspan font-size="4.8" dy="3.3" stroke="none">2.5</tspan></text>
<path d="M78.75,641.8 V649.8" stroke="#000" stroke-width="1.35"/>
<text transform="translate(79.25,658.90) scale(1.33,1)" font-size="8.3" font-weight="bold" stroke="#000" stroke-width="0.2" text-anchor="middle" textLength="12.8" lengthAdjust="spacingAndGlyphs">BC</text>
<path d="M101.80,641.8 V649.8" stroke="#000" stroke-width="1.35"/>
<text transform="translate(101.80,658.90) scale(1.33,1)" font-size="8.3" font-weight="bold" stroke="#000" stroke-width="0.2" text-anchor="middle">Si</text>
<path d="M124.85,641.8 V649.8" stroke="#000" stroke-width="1.35"/>
<text transform="translate(124.85,658.90) scale(1.33,1)" font-size="8.3" font-weight="bold" stroke="#000" stroke-width="0.2" text-anchor="middle">S</text>
<path d="M147.90,641.8 V649.8" stroke="#000" stroke-width="1.35"/>
<text transform="translate(147.90,658.90) scale(1.33,1)" font-size="8.3" font-weight="bold" stroke="#000" stroke-width="0.2" text-anchor="middle">K</text>
<path d="M170.95,641.8 V649.8" stroke="#000" stroke-width="1.35"/>
<text transform="translate(170.95,658.90) scale(1.33,1)" font-size="8.3" font-weight="bold" stroke="#000" stroke-width="0.2" text-anchor="middle">Ca</text>
<path d="M194.00,641.8 V649.8" stroke="#000" stroke-width="1.35"/>
<text transform="translate(194.00,658.90) scale(1.33,1)" font-size="8.3" font-weight="bold" stroke="#000" stroke-width="0.2" text-anchor="middle">Ti</text>
<path d="M217.05,641.8 V649.8" stroke="#000" stroke-width="1.35"/>
<text transform="translate(217.05,658.90) scale(1.33,1)" font-size="8.3" font-weight="bold" stroke="#000" stroke-width="0.2" text-anchor="middle">Mn</text>
<path d="M240.10,641.8 V649.8" stroke="#000" stroke-width="1.35"/>
<text transform="translate(240.10,658.90) scale(1.33,1)" font-size="8.3" font-weight="bold" stroke="#000" stroke-width="0.2" text-anchor="middle">Fe</text>
<path d="M263.15,641.8 V649.8" stroke="#000" stroke-width="1.35"/>
<text transform="translate(263.15,658.90) scale(1.33,1)" font-size="8.3" font-weight="bold" stroke="#000" stroke-width="0.2" text-anchor="middle">Zn</text>
<path d="M286.20,641.8 V649.8" stroke="#000" stroke-width="1.35"/>
<text transform="translate(286.20,658.90) scale(1.33,1)" font-size="8.3" font-weight="bold" stroke="#000" stroke-width="0.2" text-anchor="middle">Br</text>
<path d="M309.25,641.8 V649.8" stroke="#000" stroke-width="1.35"/>
<text transform="translate(308.45,658.90) scale(1.33,1)" font-size="8.3" font-weight="bold" stroke="#000" stroke-width="0.2" text-anchor="middle">Pb</text>
<path d="M332.30,641.8 V649.8" stroke="#000" stroke-width="1.35"/>
<text transform="translate(331.30,658.90) scale(1.33,1)" font-size="8.3" font-weight="bold" stroke="#000" stroke-width="0.2" text-anchor="middle">NO<tspan font-size="4.8" dy="3.3" stroke="none">3</tspan><tspan font-size="4.8" dy="-7.6" dx="-3.2" stroke="none">-</tspan></text>
<path d="M355.35,641.8 V649.8" stroke="#000" stroke-width="1.35"/>
<text transform="translate(357.35,658.90) scale(1.33,1)" font-size="8.3" font-weight="bold" stroke="#000" stroke-width="0.2" text-anchor="middle">SO<tspan font-size="4.8" dy="3.3" stroke="none">4</tspan><tspan font-size="4.8" dy="-7.6" dx="-3.2" stroke="none">2-</tspan></text>
<path d="M378.40,641.8 V649.8" stroke="#000" stroke-width="1.35"/>
<text transform="translate(379.40,658.90) scale(1.33,1)" font-size="8.3" font-weight="bold" stroke="#000" stroke-width="0.2" text-anchor="middle">NH<tspan font-size="4.8" dy="3.3" stroke="none">4</tspan><tspan font-size="4.8" dy="-7.6" dx="-3.2" stroke="none">+</tspan></text>
<text transform="translate(9.5,602.4) rotate(-90)" font-size="13">Percentage&#160;&#160;&#160;(%)</text>
<text x="78.9" y="465.2" font-size="9.3" stroke="#000" stroke-width="0.15" textLength="33.5" lengthAdjust="spacingAndGlyphs">Recife</text>
<rect x="123.0" y="459.0" width="28.3" height="7.0" fill="url(#mF3)" stroke="#333" stroke-width="0.8"/>
<text x="154.6" y="465.2" font-size="9.3" stroke="#000" stroke-width="0.15" textLength="12.4" lengthAdjust="spacingAndGlyphs">F1</text>
<rect x="178.3" y="459.0" width="27.7" height="7.0" fill="url(#dB)" stroke="#333" stroke-width="0.8"/>
<text x="209.6" y="465.2" font-size="9.3" stroke="#000" stroke-width="0.15" textLength="12.4" lengthAdjust="spacingAndGlyphs">F2</text>
<rect x="233.4" y="459.0" width="27.4" height="7.0" fill="url(#X)" stroke="#333" stroke-width="0.8"/>
<text x="265.1" y="465.2" font-size="9.3" stroke="#000" stroke-width="0.15" textLength="12.4" lengthAdjust="spacingAndGlyphs">F3</text>
<rect x="288.5" y="459.0" width="27.3" height="7.0" fill="url(#sB)" stroke="#333" stroke-width="0.8"/>
<text x="320.2" y="465.2" font-size="9.3" stroke="#000" stroke-width="0.15" textLength="12.4" lengthAdjust="spacingAndGlyphs">F4</text>
</g>
</svg>
</body></html>
